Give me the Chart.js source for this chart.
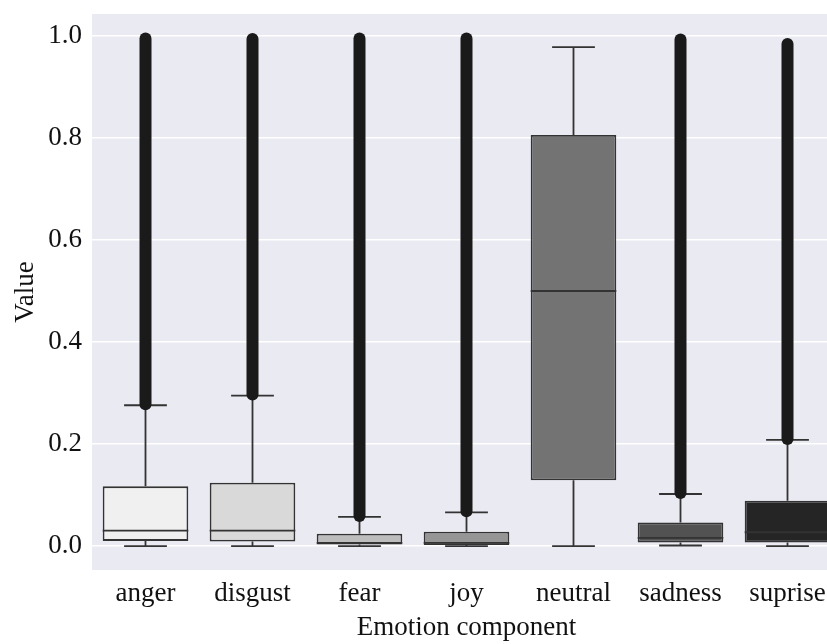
<!DOCTYPE html>
<html>
<head>
<meta charset="utf-8">
<script src="https://cdn.jsdelivr.net/npm/chart.js@4"></script>
<style>
  html, body { margin: 0; padding: 0; background: #fff; overflow: hidden; }
  #wrap { width: 860px; height: 644px; }
</style>
</head>
<body>
<div id="wrap"><canvas id="myChart"></canvas></div>
<script>
const categories = ["anger", "disgust", "fear", "joy", "neutral", "sadness", "suprise"];
const whiskerLow = [0.0, 0.0, 0.0, 0.0, 0.0, 0.001, 0.0];
const q1 = [0.010, 0.009, 0.003, 0.002, 0.129, 0.007, 0.007];
const median = [0.030, 0.030, 0.006, 0.006, 0.500, 0.016, 0.027];
const q3 = [0.117, 0.124, 0.024, 0.028, 0.806, 0.046, 0.089];
const whiskerHigh = [0.276, 0.295, 0.057, 0.066, 0.978, 0.102, 0.208];
// outliers are so dense they look like one thick bar
const outlierLow = [0.278, 0.297, 0.059, 0.068, null, 0.104, 0.210];
const outlierHigh = [0.995, 0.994, 0.995, 0.995, null, 0.993, 0.984];
const boxColors = ["#f0f0f0", "#d9d9d9", "#bdbdbd", "#969696", "#737373", "#525252", "#252525"];
const yTicks = [0.0, 0.2, 0.4, 0.6, 0.8, 1.0];

const font = "'Liberation Serif', 'DejaVu Serif', serif";
const edge = "#333333";

const ctx = document.getElementById("myChart");

const boxPlugin = {
  id: "boxParts",
  beforeDraw(chart) {
    const a = chart.chartArea;
    const c = chart.ctx;
    c.save();
    c.fillStyle = "#eaeaf2";
    c.fillRect(a.left, a.top, a.right - a.left, a.bottom - a.top);
    c.restore();
  },
  afterDatasetsDraw(chart) {
    const c = chart.ctx;
    const x = chart.scales.x;
    const y = chart.scales.y;
    const meta = chart.getDatasetMeta(0);
    c.save();
    categories.forEach((cat, i) => {
      const bar = meta.data[i];
      const cx = x.getPixelForValue(i);
      const half = bar.width / 2;
      const capHalf = half / 2;
      c.strokeStyle = edge;
      c.lineWidth = 1.8;
      c.lineCap = "butt";
      // whiskers
      c.beginPath();
      c.moveTo(cx, y.getPixelForValue(q1[i]));
      c.lineTo(cx, y.getPixelForValue(whiskerLow[i]));
      c.moveTo(cx, y.getPixelForValue(q3[i]));
      c.lineTo(cx, y.getPixelForValue(whiskerHigh[i]));
      c.stroke();
      // caps
      c.beginPath();
      c.moveTo(cx - capHalf, y.getPixelForValue(whiskerLow[i]));
      c.lineTo(cx + capHalf, y.getPixelForValue(whiskerLow[i]));
      c.moveTo(cx - capHalf, y.getPixelForValue(whiskerHigh[i]));
      c.lineTo(cx + capHalf, y.getPixelForValue(whiskerHigh[i]));
      c.stroke();
      // median
      c.beginPath();
      c.moveTo(cx - half, y.getPixelForValue(median[i]));
      c.lineTo(cx + half, y.getPixelForValue(median[i]));
      c.stroke();
      // outliers
      if (outlierLow[i] !== null) {
        c.strokeStyle = "#1a1a1a";
        c.lineWidth = 12;
        c.lineCap = "round";
        c.beginPath();
        c.moveTo(cx, y.getPixelForValue(outlierLow[i]));
        c.lineTo(cx, y.getPixelForValue(outlierHigh[i]));
        c.stroke();
      }
    });
    c.restore();
  },
};

new Chart(ctx, {
  type: "bar",
  data: {
    labels: categories,
    datasets: [
      {
        label: "box",
        data: categories.map((cat, i) => [q1[i], q3[i]]),
        backgroundColor: boxColors,
        borderColor: edge,
        borderWidth: 1.8,
        borderSkipped: false,
        barPercentage: 0.8,
        categoryPercentage: 1.0,
      },
    ],
  },
  options: {
    responsive: true,
    maintainAspectRatio: false,
    animation: false,
    layout: { padding: { left: 0, right: 19, top: 14, bottom: 0 } },
    plugins: {
      legend: { display: false },
      tooltip: { enabled: false },
    },
    scales: {
      x: {
        grid: { display: false },
        border: { display: false },
        ticks: { color: "#111", font: { family: font, size: 27 }, padding: 0 },
        title: {
          display: true,
          text: "Emotion component",
          color: "#111",
          font: { family: font, size: 27 },
          padding: { top: 0, bottom: 0 },
        },
        afterFit(scale) {
          scale.height = 74;
          scale.paddingLeft = 0;
          scale.paddingRight = 0;
        },
      },
      y: {
        min: -0.047,
        max: 1.043,
        grid: { color: "#ffffff", lineWidth: 1.5, drawTicks: false },
        border: { display: false },
        ticks: {
          color: "#111",
          font: { family: font, size: 27 },
          padding: 10,
          callback: (v) => v.toFixed(1),
        },
        afterBuildTicks(scale) {
          scale.ticks = yTicks.map((v) => ({ value: v }));
        },
        title: {
          display: true,
          text: "Value",
          color: "#111",
          font: { family: font, size: 27 },
          padding: { top: 10, bottom: 0 },
        },
        afterFit(scale) {
          scale.width = 92;
          scale.paddingTop = 0;
          scale.paddingBottom = 0;
        },
      },
    },
  },
  plugins: [boxPlugin],
});
</script>
</body>
</html>
